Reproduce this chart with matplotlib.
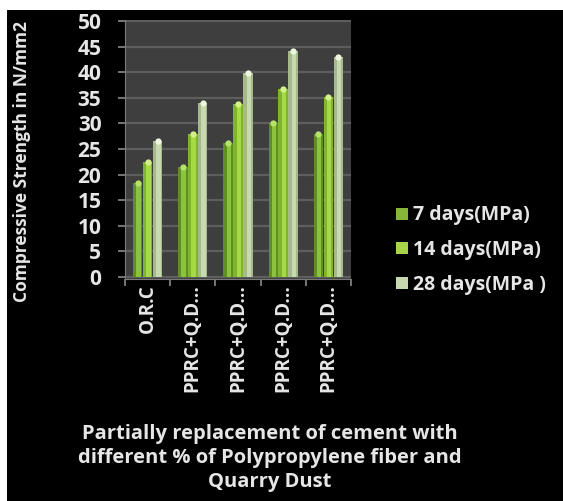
import numpy as np
import matplotlib.pyplot as plt
from matplotlib.patches import Rectangle
from matplotlib.lines import Line2D

categories = ["O.R.C", "PPRC+Q.D...", "PPRC+Q.D...", "PPRC+Q.D...", "PPRC+Q.D..."]
series = ["7 days(MPa)", "14 days(MPa)", "28 days(MPa )"]
days7 = [18.3, 21.4, 26.1, 30.0, 27.9]
days14 = [22.4, 27.9, 33.7, 36.8, 35.1]
days28 = [26.5, 34.0, 39.8, 44.2, 42.9]

# base / highlight / cap colour per series
colors = [("#5f8f22", "#8cc33c", "#b5e26a"),
          ("#7fb52e", "#a6d84a", "#d4f08a"),
          ("#a5b98a", "#c8d8b0", "#eef5e0")]
legend_colors = ["#86b53a", "#a8d44a", "#c6d8ae"]

plt.rcParams['font.family'] = ['Open Sans', 'DejaVu Sans']
txt = "#e6e6e6"

fig = plt.figure(figsize=(5.63, 5.01), dpi=100, facecolor="white")
# black chart area with a thin white margin top and left
fig.patches.append(Rectangle((7 / 563, 0), 1, (501 - 10) / 501,
                             transform=fig.transFigure, facecolor="black",
                             edgecolor="none", zorder=-5))

ax = fig.add_axes([125 / 563, (501 - 279) / 501, 226 / 563, 259 / 501])
ax.set_zorder(2)
ax.set_facecolor("#3e3e3e")

x = np.arange(len(categories))
w = 0.22
for i, vals in enumerate([days7, days14, days28]):
    base, mid, cap = colors[i]
    pos = x + (i - 1) * w
    ax.bar(pos, vals, width=w * 0.95, color=base, zorder=3)
    ax.bar(pos + w * 0.08, vals, width=w * 0.45, color=mid, zorder=4)
    ax.plot(pos, vals, linestyle="none", marker="o", markersize=4.5,
            color=cap, markeredgewidth=0, zorder=5)

ax.set_xlim(-0.5, len(categories) - 0.5)
ax.set_ylim(-0.4, 50.2)
ax.set_yticks(range(0, 51, 5))
ax.grid(axis="y", color="#5e5e5e", linewidth=1.6, zorder=1)

ax.set_xticks(x)
ax.set_xticklabels(categories, rotation=90, color=txt, fontsize=13.5,
                   fontweight="bold", va="top")
ax.set_xticks(np.arange(-0.5, len(categories), 1), minor=True)
ax.tick_params(axis="x", which="major", length=0, pad=4)
ax.tick_params(axis="x", which="minor", length=5, color="#8a8a8a", width=1.2)
ax.tick_params(axis="y", colors="#8a8a8a", labelcolor=txt, labelsize=15,
               length=5, width=1.2, pad=12)
for lab in ax.get_yticklabels():
    lab.set_fontweight("bold")

for side in ["top", "right"]:
    ax.spines[side].set_visible(False)
ax.spines["left"].set_color("#7a7a7a")
ax.spines["bottom"].set_color("#7a7a7a")

fig.text(22 / 563, 1 - 162 / 501, "Compressive Strength in N/mm2", rotation=90,
         ha="center", va="center", color=txt, fontsize=12.5, fontweight="bold")

fig.text(270 / 563, 1 - 458 / 501,
         "Partially replacement of cement with\ndifferent % of Polypropylene fiber and\nQuarry Dust",
         ha="center", va="center", color=txt, fontsize=14.5, fontweight="bold",
         linespacing=1.3)

handles = [Line2D([], [], linestyle="none", marker="s", markersize=8,
                  color=c, markeredgewidth=0) for c in legend_colors]
leg = fig.legend(handles, series, loc="center left",
                 bbox_to_anchor=(386 / 563, 1 - 250 / 501), frameon=False,
                 fontsize=14, handlelength=0.6, handletextpad=0.3,
                 labelspacing=0.75, borderpad=0)
for t in leg.get_texts():
    t.set_color(txt)
    t.set_fontweight("bold")

fig.savefig("out.png", dpi=100, facecolor="white")
